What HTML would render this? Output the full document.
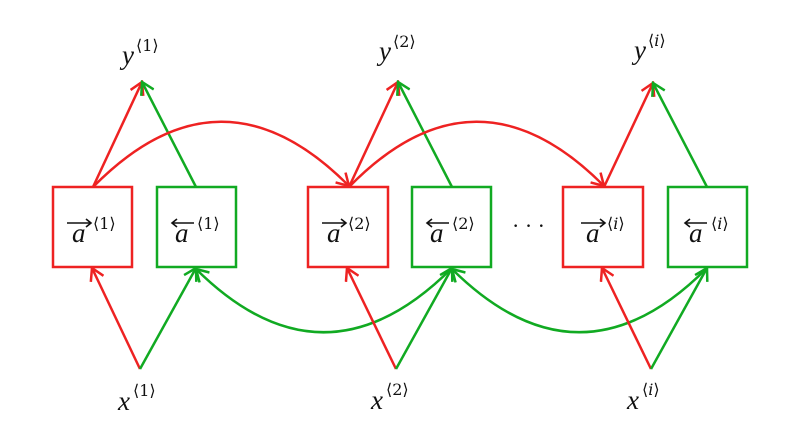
<!DOCTYPE html>
<html><head><meta charset="utf-8"><style>
html,body{margin:0;padding:0;background:#fff;}
svg{display:block}
text{font-family:"Liberation Serif","DejaVu Serif",serif;fill:#111;}
.m{font-style:italic;font-size:27px;font-family:"Liberation Serif",serif}
.s{font-size:16px;font-family:"DejaVu Serif","Liberation Serif",serif}
</style></head><body>
<svg width="785" height="448" viewBox="0 0 785 448" xmlns="http://www.w3.org/2000/svg">
<defs>
<marker id="ar" markerWidth="16" markerHeight="16" refX="14" refY="8" orient="auto" markerUnits="userSpaceOnUse">
<path d="M2,1 L14,8 L2,15" fill="none" stroke="#ee2222" stroke-width="2.5"/></marker>
<marker id="ag" markerWidth="16" markerHeight="16" refX="14" refY="8" orient="auto" markerUnits="userSpaceOnUse">
<path d="M2,1 L14,8 L2,15" fill="none" stroke="#11aa22" stroke-width="2.5"/></marker>
</defs>
<g fill="none" stroke-width="2.5">
<rect x="53" y="187" width="79" height="80" stroke="#ee2222"/>
<rect x="157" y="187" width="79" height="80" stroke="#11aa22"/>
<rect x="308" y="187" width="80" height="80" stroke="#ee2222"/>
<rect x="412" y="187" width="79" height="80" stroke="#11aa22"/>
<rect x="563" y="187" width="80" height="80" stroke="#ee2222"/>
<rect x="668" y="187" width="79" height="80" stroke="#11aa22"/>
<line x1="93" y1="187" x2="142" y2="82" stroke="#ee2222" marker-end="url(#ar)"/>
<line x1="196" y1="187" x2="142" y2="82" stroke="#11aa22" marker-end="url(#ag)"/>
<line x1="349" y1="187" x2="398" y2="82" stroke="#ee2222" marker-end="url(#ar)"/>
<line x1="452" y1="187" x2="398" y2="82" stroke="#11aa22" marker-end="url(#ag)"/>
<line x1="604" y1="187" x2="653" y2="83" stroke="#ee2222" marker-end="url(#ar)"/>
<line x1="707" y1="187" x2="653" y2="83" stroke="#11aa22" marker-end="url(#ag)"/>
<path d="M93,187 Q221,57 349,186" stroke="#ee2222" marker-end="url(#ar)"/>
<path d="M349,187 Q476,57 604,186" stroke="#ee2222" marker-end="url(#ar)"/>
<path d="M452,268 Q324,396 196,269" stroke="#11aa22" marker-end="url(#ag)"/>
<path d="M707,268 Q580,396 452,269" stroke="#11aa22" marker-end="url(#ag)"/>
<line x1="140" y1="369" x2="92" y2="268" stroke="#ee2222" marker-end="url(#ar)"/>
<line x1="140" y1="369" x2="196" y2="268" stroke="#11aa22" marker-end="url(#ag)"/>
<line x1="396" y1="369" x2="347" y2="268" stroke="#ee2222" marker-end="url(#ar)"/>
<line x1="396" y1="369" x2="452" y2="268" stroke="#11aa22" marker-end="url(#ag)"/>
<line x1="651" y1="369" x2="602" y2="268" stroke="#ee2222" marker-end="url(#ar)"/>
<line x1="651" y1="369" x2="707" y2="268" stroke="#11aa22" marker-end="url(#ag)"/>
</g>
<text x="122" y="64" class="m">y</text><text x="136" y="51" class="s">⟨1⟩</text>
<text x="379" y="60" class="m">y</text><text x="393" y="47" class="s">⟨2⟩</text>
<text x="634" y="59" class="m">y</text><text x="648" y="46" class="s">⟨<tspan font-style="italic">i</tspan>⟩</text>
<text x="118" y="410" class="m">x</text><text x="133" y="396" class="s">⟨1⟩</text>
<text x="371" y="409" class="m">x</text><text x="386" y="395" class="s">⟨2⟩</text>
<text x="627" y="409" class="m">x</text><text x="642" y="395" class="s">⟨<tspan font-style="italic">i</tspan>⟩</text>
<g stroke="#111" stroke-width="1.6" fill="none">
<path d="M67,223 H91 M86,219 L91,223 L86,227"/>
<path d="M172,223 H194 M177,219 L172,223 L177,227"/>
<path d="M322,223 H346 M341,219 L346,223 L341,227"/>
<path d="M427,223 H449 M432,219 L427,223 L432,227"/>
<path d="M581,223 H605 M600,219 L605,223 L600,227"/>
<path d="M685,223 H707 M690,219 L685,223 L690,227"/>
</g>
<text x="72" y="242" class="m">a</text><text x="93" y="229" class="s">⟨1⟩</text>
<text x="175" y="242" class="m">a</text><text x="197" y="229" class="s">⟨1⟩</text>
<text x="327" y="242" class="m">a</text><text x="348" y="229" class="s">⟨2⟩</text>
<text x="430" y="242" class="m">a</text><text x="452" y="229" class="s">⟨2⟩</text>
<text x="586" y="242" class="m">a</text><text x="607" y="229" class="s">⟨<tspan font-style="italic">i</tspan>⟩</text>
<text x="689" y="242" class="m">a</text><text x="711" y="229" class="s">⟨<tspan font-style="italic">i</tspan>⟩</text>
<text x="512" y="233" font-size="22">· · ·</text>
</svg>
</body></html>
